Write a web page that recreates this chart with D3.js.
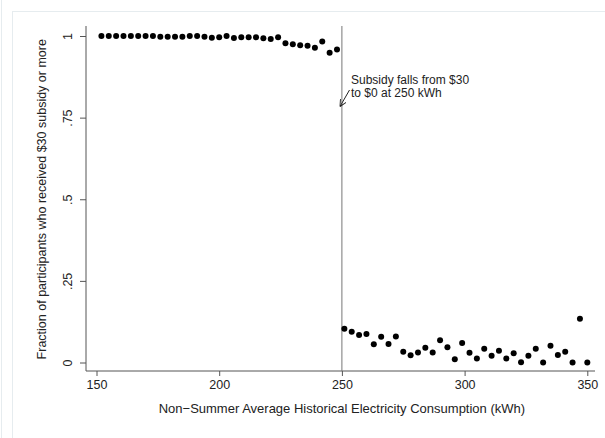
<!DOCTYPE html>
<meta charset="utf-8">
<style>
body { margin: 0; background: #fff; }
svg text { font-family: "Liberation Sans", Arial, Helvetica, sans-serif; fill: #222; }
</style>
<svg width="605" height="438"></svg>
<script src="https://d3js.org/d3.v7.min.js"></script>
<script>

// bins below the cutoff (kWh) and share getting the $30 subsidy
var leftX = [152, 155, 158, 161, 164, 167, 170, 173, 176, 179, 182, 185, 188, 191, 194, 197,
             200, 203, 206, 209, 212, 215, 218, 221, 224, 227, 230, 233, 236, 239, 242, 245, 248]
var leftY = [1, 1, 1, 1, 1, 1, 1, 1, .998, .998, .998, .998, 1, 1, .998, .995,
             .996, 1, .994, .996, .996, .996, .993, .991, .996, .978, .975, .972, .970, .964, .983, .949, .959]

// bins above the cutoff
var rightX = [251, 254, 257, 260, 263, 266, 269, 272, 275, 278, 281, 284, 287, 290, 293, 296, 299,
              302, 305, 308, 311, 314, 317, 320, 323, 326, 329, 332, 335, 338, 341, 344, 347, 350]
var rightY = [.103, .094, .084, .087, .056, .079, .057, .080, .033, .022, .031, .045, .031, .068, .047, .010, .060,
              .030, .012, .042, .021, .036, .012, .028, .001, .021, .042, 0, .051, .023, .033, 0, .134, 0]

var xTicks = [150, 200, 250, 300, 350]
var yTicks = [0, .25, .5, .75, 1]
var cutoff = 250

var dataset = []
for (var i = 0; i < leftX.length; i++) dataset.push([leftX[i], leftY[i]])
for (var i = 0; i < rightX.length; i++) dataset.push([rightX[i], rightY[i]])

var svg = d3.select("svg")

// plot region edges
var plotLeft = 86, plotRight = 595, plotTop = 26, plotBottom = 371

var xScale = d3.scaleLinear().domain([150, 350]).range([96.5, 587.3])
var yScale = d3.scaleLinear().domain([0, 1]).range([362.5, 36])

// faint graph frame
svg.append("line").attr("x1", 1.5).attr("x2", 1.5).attr("y1", 0).attr("y2", 438)
  .attr("stroke", "#e6ecef").attr("stroke-width", 1)
svg.append("rect").attr("x", 12.5).attr("y", 11.5).attr("width", 620).attr("height", 450)
  .attr("fill", "none").attr("stroke", "#e6ecef").attr("stroke-width", 1)

// axes
var gx = svg.append("g")
  .attr("transform", "translate(0," + plotBottom + ")")
  .call(d3.axisBottom(xScale).tickValues(xTicks).tickSize(5).tickPadding(4))
gx.select(".domain").remove()

var gy = svg.append("g")
  .attr("transform", "translate(" + plotLeft + ",0)")
  .call(d3.axisLeft(yScale).tickValues(yTicks).tickSize(6)
    .tickFormat(function (d) { return d === 0 ? "0" : d === 1 ? "1" : String(d).replace("0.", ".") }))
gy.select(".domain").remove()

svg.selectAll(".tick line").attr("stroke", "#555")
svg.selectAll(".tick text").style("font-size", "12.5px").attr("fill", "#222")

gy.selectAll(".tick text")
  .attr("x", null).attr("dy", null)
  .attr("text-anchor", "middle")
  .attr("transform", function () { return "translate(-14,0)rotate(-90)" })

svg.append("line").attr("x1", plotLeft).attr("x2", plotRight)
  .attr("y1", plotBottom).attr("y2", plotBottom).attr("stroke", "#555")
svg.append("line").attr("x1", plotLeft).attr("x2", plotLeft)
  .attr("y1", plotTop).attr("y2", plotBottom).attr("stroke", "#555")

// cutoff line
svg.append("line")
  .attr("x1", xScale(cutoff)).attr("x2", xScale(cutoff))
  .attr("y1", plotTop).attr("y2", plotBottom)
  .attr("stroke", "#777").attr("stroke-width", 1)

// dots
svg.append("g")
  .selectAll("circle")
  .data(dataset)
  .enter()
  .append("circle")
  .attr("cx", function (d) { return xScale(d[0]) })
  .attr("cy", function (d) { return yScale(d[1]) })
  .attr("r", 3)
  .style("fill", "#000")

// annotation with arrow
svg.append("defs").append("marker")
  .attr("id", "arr").attr("viewBox", "0 0 10 10").attr("refX", 10).attr("refY", 5)
  .attr("markerWidth", 7).attr("markerHeight", 7).attr("orient", "auto")
  .attr("markerUnits", "userSpaceOnUse")
  .append("path").attr("d", "M0,0L10,5L0,10").attr("fill", "none").attr("stroke", "#222").attr("stroke-width", 1.3)

svg.append("line")
  .attr("x1", 349.5).attr("y1", 90).attr("x2", 340).attr("y2", 106.5)
  .attr("stroke", "#222").attr("stroke-width", 1)
  .attr("marker-end", "url(#arr)")

var note = svg.append("text").attr("x", 351).attr("y", 84).style("font-size", "12px")
note.append("tspan").attr("x", 351).text("Subsidy falls from $30")
note.append("tspan").attr("x", 351).attr("dy", 12.5).text("to $0 at 250 kWh")

// axis titles
svg.append("text")
  .attr("x", xScale(cutoff)).attr("y", 413)
  .attr("text-anchor", "middle")
  .style("font-size", "13px")
  .text("Non\u2212Summer Average Historical Electricity Consumption (kWh)")

svg.append("text")
  .attr("text-anchor", "middle")
  .attr("transform", "translate(46," + yScale(0.5) + ")rotate(-90)")
  .style("font-size", "12.5px")
  .text("Fraction of participants who received $30 subsidy or more")

</script>
